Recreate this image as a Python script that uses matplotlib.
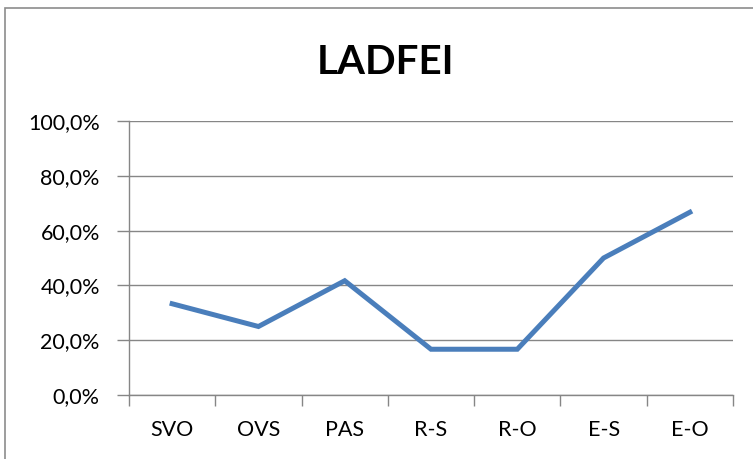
import matplotlib.pyplot as plt
from matplotlib.patches import Rectangle
from matplotlib.ticker import FixedLocator, FuncFormatter

categories = ["SVO", "OVS", "PAS", "R-S", "R-O", "E-S", "E-O"]
values = [33.3, 25.0, 41.7, 16.7, 16.7, 50.0, 66.7]
y_ticks = [0, 20, 40, 60, 80, 100]

W, H = 753, 459
plt.rcParams["font.family"] = ["Lato", "DejaVu Sans"]

fig = plt.figure(figsize=(W / 100, H / 100), dpi=100)

# chart frame like the Excel chart area
fig.patches.append(Rectangle((5 / W, -0.1), 1.2, (H - 8) / H + 0.1,
                             transform=fig.transFigure, fill=False,
                             edgecolor="#8c8c8c", lw=1.2))

left, right, top, bottom = 129, 733, 121, 395
ax = fig.add_axes([left / W, (H - bottom) / H, (right - left) / W, (bottom - top) / H])

x = range(len(categories))
ax.plot(x, values, color="#4A7EBB", lw=3.6, solid_joinstyle="miter")

ax.set_xlim(-0.5, len(categories) - 0.5)
ax.set_ylim(0, 100)
ax.set_yticks(y_ticks)
ax.yaxis.set_major_formatter(FuncFormatter(lambda v, p: f"{v:.1f}%".replace(".", ",")))
ax.grid(axis="y", color="#868686", lw=1.0)
ax.set_axisbelow(True)

ax.set_xticks(list(x))
ax.set_xticklabels(categories)
ax.xaxis.set_minor_locator(FixedLocator([i - 0.5 for i in range(len(categories) + 1)]))
ax.tick_params(axis="x", which="major", length=0, pad=18, labelsize=15.5)
ax.tick_params(axis="x", which="minor", length=8, width=1.0, color="#868686", direction="out")
ax.tick_params(axis="y", length=9, width=1.0, color="#868686", direction="out", pad=12, labelsize=15.5)

for side in ["top", "right"]:
    ax.spines[side].set_visible(False)
for side in ["left", "bottom"]:
    ax.spines[side].set_color("#868686")
    ax.spines[side].set_linewidth(1.0)

fig.text(386 / W, 1 - 62 / H, "LADFEI", ha="center", va="center",
         fontsize=29, fontweight="bold")

fig.savefig("out.png", dpi=100)
